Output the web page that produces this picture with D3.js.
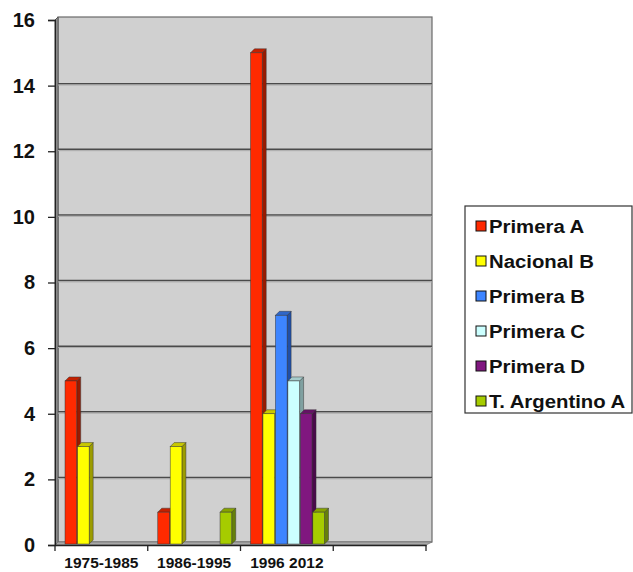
<!DOCTYPE html>
<html>
<head>
<meta charset="utf-8">
<script src="https://cdn.jsdelivr.net/npm/d3@7"></script>
<style>
  html, body { margin: 0; padding: 0; background: #fff; }
  svg { display: block; font-family: "Liberation Sans", Arial, sans-serif; font-weight: bold; }
</style>
</head>
<body>
<svg id="chart" width="633" height="572"></svg>
<script>
// Periods on the x axis (the last slot is left empty)
const categories = ["1975-1985", "1986-1995", "1996 2012", ""];
// Divisions, in legend order
const series = ["Primera A", "Nacional B", "Primera B", "Primera C", "Primera D", "T. Argentino A"];
// Values per division, one entry per period
const primeraA   = [5, 1, 15, 0];
const nacionalB  = [3, 3, 4, 0];
const primeraB   = [0, 0, 7, 0];
const primeraC   = [0, 0, 5, 0];
const primeraD   = [0, 0, 4, 0];
const tArgentino = [0, 1, 1, 0];
const yTicks = [0, 2, 4, 6, 8, 10, 12, 14, 16];

const values = [primeraA, nacionalB, primeraB, primeraC, primeraD, tArgentino];
// front face, side face, top face
const colors = {
  "Primera A":      ["#ff2a00", "#9a1a00", "#c42000"],
  "Nacional B":     ["#ffff00", "#9c9c00", "#c8c800"],
  "Primera B":      ["#3d85ff", "#1f4fa8", "#2f66c8"],
  "Primera C":      ["#ccffff", "#7fa0a0", "#a6cccc"],
  "Primera D":      ["#80177f", "#4a0a4a", "#651265"],
  "T. Argentino A": ["#a6cc00", "#66800a", "#86a300"]
};

const svg = d3.select("#chart");
const depth = 4;
const axisX = 55, baseY = 545, topY = 20, rightX = 426;

const x = d3.scaleBand().domain(categories).range([axisX, rightX]);
const xs = d3.scaleBand().domain(series).range([10, 84.5]).paddingInner(0.02);
const y = d3.scaleLinear().domain([0, 16]).range([baseY, topY]);

// back wall
const wall = svg.append("g");
wall.append("rect")
  .attr("x", axisX + 3).attr("y", topY - 3)
  .attr("width", rightX + 6 - axisX - 3).attr("height", baseY - topY)
  .attr("fill", "#d0d0d0").attr("stroke", "#6a6a6a").attr("stroke-width", 1.2);
// left side wall
wall.append("path")
  .attr("d", `M${axisX},${topY} L${axisX + 3},${topY - 3} L${axisX + 3},${baseY - 3} L${axisX},${baseY} Z`)
  .attr("fill", "#9a9a9a").attr("stroke", "#555").attr("stroke-width", 1);
// floor edge
wall.append("path")
  .attr("d", `M${axisX},${baseY} L${axisX + 3},${baseY - 3} L${rightX + 6},${baseY - 3} L${rightX},${baseY} Z`)
  .attr("fill", "#a8a8a8").attr("stroke", "#777").attr("stroke-width", 0.8);

// gridlines
const grid = svg.append("g");
yTicks.filter(v => v > 0 && v < 16).forEach(v => {
  grid.append("line")
    .attr("x1", axisX + 3).attr("x2", rightX + 6)
    .attr("y1", y(v) - 2).attr("y2", y(v) - 2)
    .attr("stroke", "#4a4a4a").attr("stroke-width", 1.5);
  grid.append("line")
    .attr("x1", axisX + 3).attr("x2", rightX + 6)
    .attr("y1", y(v) - 0.6).attr("y2", y(v) - 0.6)
    .attr("stroke", "#aaaaaa").attr("stroke-width", 1);
});

// bars
const bars = svg.append("g");
categories.forEach((c, ci) => {
  series.forEach((s, si) => {
    const v = values[si][ci];
    if (!v) return;
    const x0 = x(c) + xs(s);
    const w = xs.bandwidth() - 0.5;
    const y0 = y(0) - 1, y1 = y(v);
    const [front, side, top] = colors[s];
    const g = bars.append("g").attr("stroke", "#333").attr("stroke-width", 0.6).attr("stroke-opacity", 0.8);
    g.append("path")
      .attr("d", `M${x0 + w},${y1} L${x0 + w + depth},${y1 - depth} L${x0 + w + depth},${y0 - depth} L${x0 + w},${y0} Z`)
      .attr("fill", side);
    g.append("path")
      .attr("d", `M${x0},${y1} L${x0 + depth},${y1 - depth} L${x0 + w + depth},${y1 - depth} L${x0 + w},${y1} Z`)
      .attr("fill", top);
    g.append("rect")
      .attr("x", x0).attr("y", y1).attr("width", w).attr("height", y0 - y1)
      .attr("fill", front);
  });
});

// y axis
const yAxis = svg.append("g").attr("transform", `translate(${axisX},0)`)
  .call(d3.axisLeft(y).tickValues(yTicks).tickSize(7).tickPadding(13));
yAxis.select(".domain").attr("stroke", "#222").attr("stroke-width", 1.3);
yAxis.selectAll(".tick line").attr("stroke", "#222").attr("stroke-width", 1.3);
yAxis.selectAll(".tick text")
  .attr("font-size", 20).attr("font-weight", "bold").attr("fill", "#111")
  .attr("font-family", "'Liberation Sans', Arial, sans-serif");

// x axis
const xAxis = svg.append("g").attr("transform", `translate(0,${baseY})`)
  .call(d3.axisBottom(x).tickSize(0).tickPadding(12));
xAxis.select(".domain").attr("stroke", "#222").attr("stroke-width", 1.3);
xAxis.selectAll(".tick text")
  .attr("font-size", 15.5).attr("font-weight", "bold").attr("fill", "#111")
  .attr("font-family", "'Liberation Sans', Arial, sans-serif");
// category boundary ticks
xAxis.selectAll("line.bound")
  .data(categories.map(c => x(c)).concat([x(categories[categories.length - 1]) + x.bandwidth()]))
  .join("line").attr("class", "bound")
  .attr("x1", d => d).attr("x2", d => d).attr("y1", 0).attr("y2", 6)
  .attr("stroke", "#222").attr("stroke-width", 1.3);

// legend
const legend = svg.append("g");
legend.append("rect")
  .attr("x", 465).attr("y", 206).attr("width", 167).attr("height", 207)
  .attr("fill", "#fff").attr("stroke", "#333").attr("stroke-width", 1.2);
const ly = d3.scalePoint().domain(series).range([226, 401]);
series.forEach(s => {
  legend.append("rect")
    .attr("x", 476).attr("y", ly(s) - 5).attr("width", 10).attr("height", 10)
    .attr("fill", colors[s][0]).attr("stroke", "#111").attr("stroke-width", 1);
  legend.append("text")
    .attr("transform", `translate(489,${ly(s) + 6.5}) scale(1.13,1)`)
    .attr("font-size", 18).attr("fill", "#111")
    .text(s);
});
</script>
</body>
</html>
